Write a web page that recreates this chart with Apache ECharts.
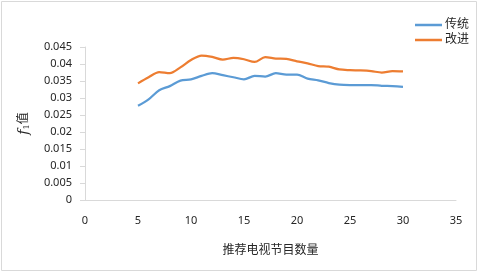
<!DOCTYPE html>
<html>
<head>
<meta charset="utf-8">
<script src="https://cdn.jsdelivr.net/npm/echarts@6/dist/echarts.min.js"></script>
<style>
  html, body { margin: 0; padding: 0; background: #fff; }
  #main { width: 478px; height: 272px; }
</style>
</head>
<body>
<div id="main"></div>
<script>
// x: 推荐电视节目数量
var counts = [5, 6, 7, 8, 9, 10, 11, 12, 13, 14, 15, 16, 17, 18, 19, 20, 21, 22, 23, 24, 25, 26, 27, 28, 29, 30]
var traditional = [0.0277, 0.0296, 0.0323, 0.0335, 0.0351, 0.0355, 0.0365, 0.0373, 0.0367, 0.0361, 0.0355, 0.0365, 0.0363, 0.0373, 0.0369, 0.0369, 0.0357, 0.0352, 0.0344, 0.0339, 0.0338, 0.0338, 0.0338, 0.0336, 0.0335, 0.0333]
var improved = [0.0343, 0.0361, 0.0376, 0.0373, 0.0390, 0.0412, 0.0425, 0.0421, 0.0413, 0.0418, 0.0414, 0.0406, 0.0420, 0.0416, 0.0415, 0.0408, 0.0402, 0.0394, 0.0392, 0.0384, 0.0382, 0.0381, 0.0379, 0.0375, 0.0379, 0.0378]
var seriesNames = ['传统', '改进']

function pairs(xs, ys) {
  return xs.map(function (x, i) { return [x, ys[i]] })
}

var myChart = echarts.init(document.getElementById('main'))
var font = '"Noto Sans", "Noto Sans CJK SC", sans-serif'
var option = {
  animation: false,
  textStyle: { fontFamily: font, color: '#262626' },
  graphic: [
    {
      type: 'rect',
      shape: { x: 1.5, y: 1.5, width: 475, height: 269 },
      style: { fill: 'none', stroke: '#d9d9d9', lineWidth: 1 }
    }
  ],
  grid: { left: 85, right: 22, top: 47, bottom: 72 },
  legend: {
    data: seriesNames,
    orient: 'vertical',
    left: 410,
    top: 14,
    icon: 'rect',
    itemWidth: 27,
    itemHeight: 2.5,
    itemGap: 3,
    textStyle: { fontFamily: font, fontSize: 12, color: '#262626', padding: [0, 0, 0, -2] }
  },
  xAxis: {
    type: 'value',
    min: 0,
    max: 35,
    interval: 5,
    name: '推荐电视节目数量',
    nameLocation: 'middle',
    nameGap: 45,
    nameTextStyle: { fontSize: 12, color: '#262626' },
    axisLine: { show: true, lineStyle: { color: '#d9d9d9', width: 1 } },
    axisTick: { show: false },
    splitLine: { show: false },
    axisLabel: { margin: 15, fontSize: 11, color: '#262626' }
  },
  yAxis: {
    type: 'value',
    min: 0,
    max: 0.045,
    interval: 0.005,
    name: '{i|f}{s|1}{n|值}',
    nameLocation: 'middle',
    nameRotate: 90,
    nameGap: 54,
    nameTextStyle: {
      rich: {
        i: { fontFamily: 'DejaVu Serif', fontStyle: 'italic', fontSize: 14, color: '#262626' },
        s: { fontFamily: 'DejaVu Serif', fontSize: 8, color: '#262626', verticalAlign: 'bottom', padding: [6, 0, 0, 0] },
        n: { fontSize: 12, color: '#262626' }
      }
    },
    axisLine: { show: true, lineStyle: { color: '#d9d9d9', width: 1 } },
    axisTick: { show: true, length: 5, lineStyle: { color: '#d9d9d9' } },
    splitLine: { show: false },
    axisLabel: { margin: 13, fontSize: 11, color: '#262626' }
  },
  series: [
    {
      name: seriesNames[0],
      type: 'line',
      smooth: 0.3,
      symbol: 'none',
      lineStyle: { color: '#5B9BD5', width: 2.25 },
      itemStyle: { color: '#5B9BD5' },
      data: pairs(counts, traditional)
    },
    {
      name: seriesNames[1],
      type: 'line',
      smooth: 0.3,
      symbol: 'none',
      lineStyle: { color: '#ED7D31', width: 2.25 },
      itemStyle: { color: '#ED7D31' },
      data: pairs(counts, improved)
    }
  ]
}
myChart.setOption(option)
</script>
</body>
</html>
